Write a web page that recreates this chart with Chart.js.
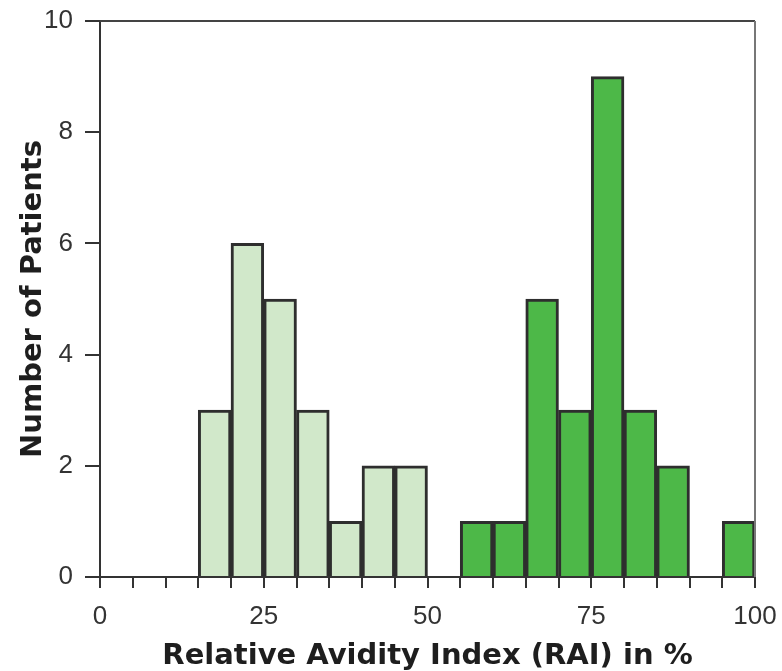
<!DOCTYPE html>
<html>
<head>
<meta charset="utf-8">
<script src="https://cdn.jsdelivr.net/npm/chart.js@4/dist/chart.umd.min.js"></script>
<style>
  html, body { margin: 0; padding: 0; background: #fff; }
  #wrap { width: 782px; height: 671px; position: relative; }
</style>
</head>
<body>
<div id="wrap"><canvas id="c" width="782" height="671"></canvas></div>
<script>
// Histogram bins (RAI %, bin start), width 5
const binStarts = [0,5,10,15,20,25,30,35,40,45,50,55,60,65,70,75,80,85,90,95];
const binWidth = 5;
// Low-avidity group (light green)
const lowAvidity  = [null,null,null,3,6,5,3,1,2,2,null,null,null,null,null,null,null,null,null,null];
// High-avidity group (dark green)
const highAvidity = [null,null,null,null,null,null,null,null,null,null,null,1,1,5,3,9,3,2,null,1];
const xTickLabels = [0,25,50,75,100];
const yTicks = [0,2,4,6,8,10];

function toPoints(counts) {
  return binStarts.map((s, i) => ({ x: s + binWidth / 2, y: counts[i] }))
                  .filter(p => p.y !== null);
}

const frame = {
  id: 'frame',
  afterDraw(chart) {
    const { ctx, chartArea: a } = chart;
    ctx.save();
    ctx.strokeStyle = '#444';
    ctx.lineWidth = 2;
    ctx.beginPath();
    ctx.moveTo(a.left, a.top);
    ctx.lineTo(a.right, a.top);
    ctx.stroke();
    ctx.strokeStyle = '#777';
    ctx.beginPath();
    ctx.moveTo(a.right, a.top);
    ctx.lineTo(a.right, a.bottom);
    ctx.stroke();
    ctx.restore();
  }
};

const tickFont = { family: 'Liberation Sans, Arial, sans-serif', size: 26 };
const titleFont = { family: 'DejaVu Sans, sans-serif', size: 29, weight: 'bold' };

new Chart(document.getElementById('c'), {
  type: 'bar',
  data: {
    datasets: [
      { label: 'Low', data: toPoints(lowAvidity), backgroundColor: '#d1e8ca',
        borderColor: '#2e2e2e', borderWidth: 3, barPercentage: 1, categoryPercentage: 1, grouped: false },
      { label: 'High', data: toPoints(highAvidity), backgroundColor: '#4db848',
        borderColor: '#2e2e2e', borderWidth: 3, barPercentage: 1, categoryPercentage: 1, grouped: false }
    ]
  },
  options: {
    responsive: false,
    animation: false,
    layout: { padding: { top: 21, right: 27, left: 0, bottom: 0 } },
    plugins: { legend: { display: false }, tooltip: { enabled: false } },
    scales: {
      x: {
        type: 'linear', min: 0, max: 100, offset: false,
        afterBuildTicks(scale) { scale.ticks = binStarts.concat([100]).map(v => ({ value: v })); },
        ticks: {
          autoSkip: false, maxRotation: 0, padding: 13,
          color: '#333', font: tickFont,
          callback: v => xTickLabels.includes(v) ? String(v) : ''
        },
        grid: { offset: false, drawOnChartArea: false, drawTicks: true, tickLength: 11, color: '#333', lineWidth: 2 },
        border: { display: true, color: '#333', width: 2 },
        title: { display: true, text: 'Relative Avidity Index (RAI) in %', color: '#1e1e1e',
          font: titleFont, padding: { top: 0, bottom: -3 } },
        afterFit(scale) { scale.height = 94; scale.paddingLeft = 0; scale.paddingRight = 0; }
      },
      y: {
        min: 0, max: 10,
        afterBuildTicks(scale) { scale.ticks = yTicks.map(v => ({ value: v })); },
        ticks: { color: '#333', padding: 12, font: tickFont },
        grid: { drawOnChartArea: false, drawTicks: true, tickLength: 15, color: '#333', lineWidth: 2 },
        border: { display: true, color: '#333', width: 2 },
        title: { display: true, text: 'Number of Patients', color: '#1e1e1e',
          font: titleFont, padding: { top: 16, bottom: 0 } },
        afterFit(scale) { scale.width = 100; scale.paddingTop = 0; scale.paddingBottom = 0; }
      }
    }
  },
  plugins: [frame]
});
</script>
</body>
</html>
